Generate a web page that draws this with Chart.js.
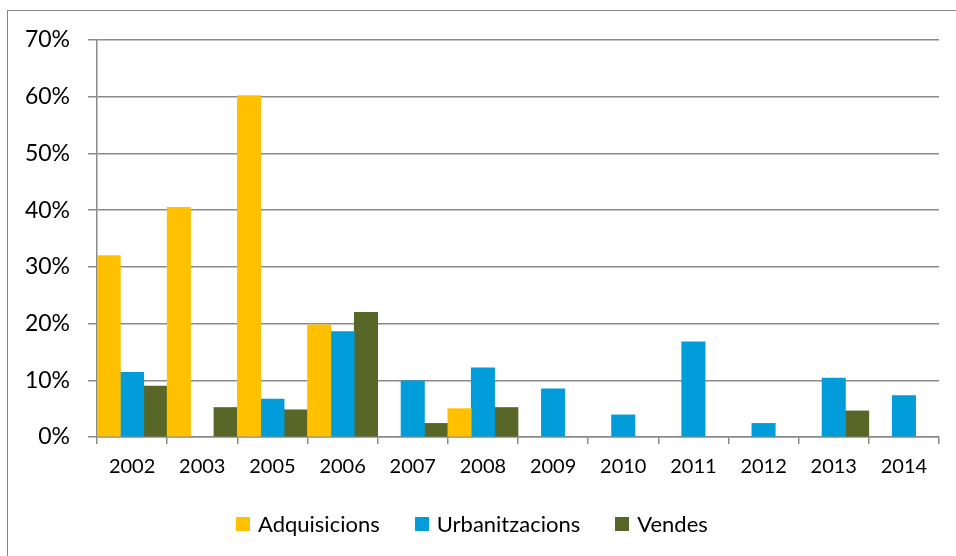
<!DOCTYPE html>
<html>
<head>
<meta charset="utf-8">
<script src="https://cdn.jsdelivr.net/npm/chart.js@4/dist/chart.umd.min.js"></script>
<style>
  html, body { margin: 0; padding: 0; background: #fff; }
  body { width: 956px; height: 556px; position: relative; overflow: hidden; }
  #frame { position: absolute; left: 7px; top: 10px; width: 980px; height: 580px; border: 1px solid #868686; box-sizing: border-box; }
  #wrap { position: absolute; left: 0; top: 0; width: 956px; height: 556px; }
  #legend { position: absolute; left: 236px; top: 514px; display: flex; align-items: center; font-family: Lato, sans-serif; font-size: 22px; line-height: 20px; color: #000; }
  .item { display: flex; align-items: center; margin-right: 35px; }
  .box { width: 14px; height: 14px; margin-right: 8px; }
</style>
</head>
<body>
<div id="frame"></div>
<div id="wrap"><canvas id="c" width="956" height="556"></canvas></div>
<div id="legend"></div>
<script>
const categories = ["2002","2003","2005","2006","2007","2008","2009","2010","2011","2012","2013","2014"];
const seriesNames = ["Adquisicions","Urbanitzacions","Vendes"];
const adquisicions   = [32.0, 40.5, 60.2, 19.8, null, 5.0, null, null, null, null, null, null];
const urbanitzacions = [11.4, null, 6.7, 18.6, 9.9, 12.2, 8.5, 3.9, 16.8, 2.4, 10.4, 7.3];
const vendes         = [9.0, 5.2, 4.8, 22.0, 2.4, 5.2, null, null, null, null, 4.6, null];
const yTicks = [0, 10, 20, 30, 40, 50, 60, 70];
const colors = ["#FFC000", "#009DDA", "#586627"];

const datasets = [adquisicions, urbanitzacions, vendes].map((d, i) => ({
  label: seriesNames[i],
  data: d,
  backgroundColor: colors[i],
  borderWidth: 0,
  barPercentage: 1,
  categoryPercentage: 1
}));

const gridColor = "#8a8a8a";

const chart = new Chart(document.getElementById("c"), {
  type: "bar",
  data: { labels: categories, datasets },
  options: {
    responsive: false,
    animation: false,
    layout: { padding: { top: 40, right: 17, left: 0, bottom: 59 } },
    plugins: { legend: { display: false }, tooltip: { enabled: false } },
    scales: {
      x: {
        grid: { display: true, drawOnChartArea: false, drawTicks: true, tickLength: 7, color: gridColor, lineWidth: 1.5, offset: true },
        border: { display: true, color: gridColor, width: 1.5 },
        ticks: { color: "#000", font: { family: "Lato", size: 20 }, padding: 11, maxRotation: 0 },
        afterFit: s => { s.height = 60; }
      },
      y: {
        min: yTicks[0],
        max: yTicks[yTicks.length - 1],
        afterBuildTicks: s => { s.ticks = yTicks.map(v => ({ value: v })); },
        grid: { color: gridColor, lineWidth: 1.5, tickLength: 9, drawTicks: true },
        border: { display: true, color: gridColor, width: 1.5 },
        ticks: { color: "#000", font: { family: "Lato", size: 23 }, padding: 18, callback: v => v + "%" },
        afterFit: s => { s.width = 97; }
      }
    }
  }
});

const leg = document.getElementById("legend");
chart.data.datasets.forEach(ds => {
  const it = document.createElement("div");
  it.className = "item";
  const b = document.createElement("div");
  b.className = "box";
  b.style.background = ds.backgroundColor;
  const t = document.createElement("span");
  t.textContent = ds.label;
  it.appendChild(b); it.appendChild(t);
  leg.appendChild(it);
});
</script>
</body>
</html>
